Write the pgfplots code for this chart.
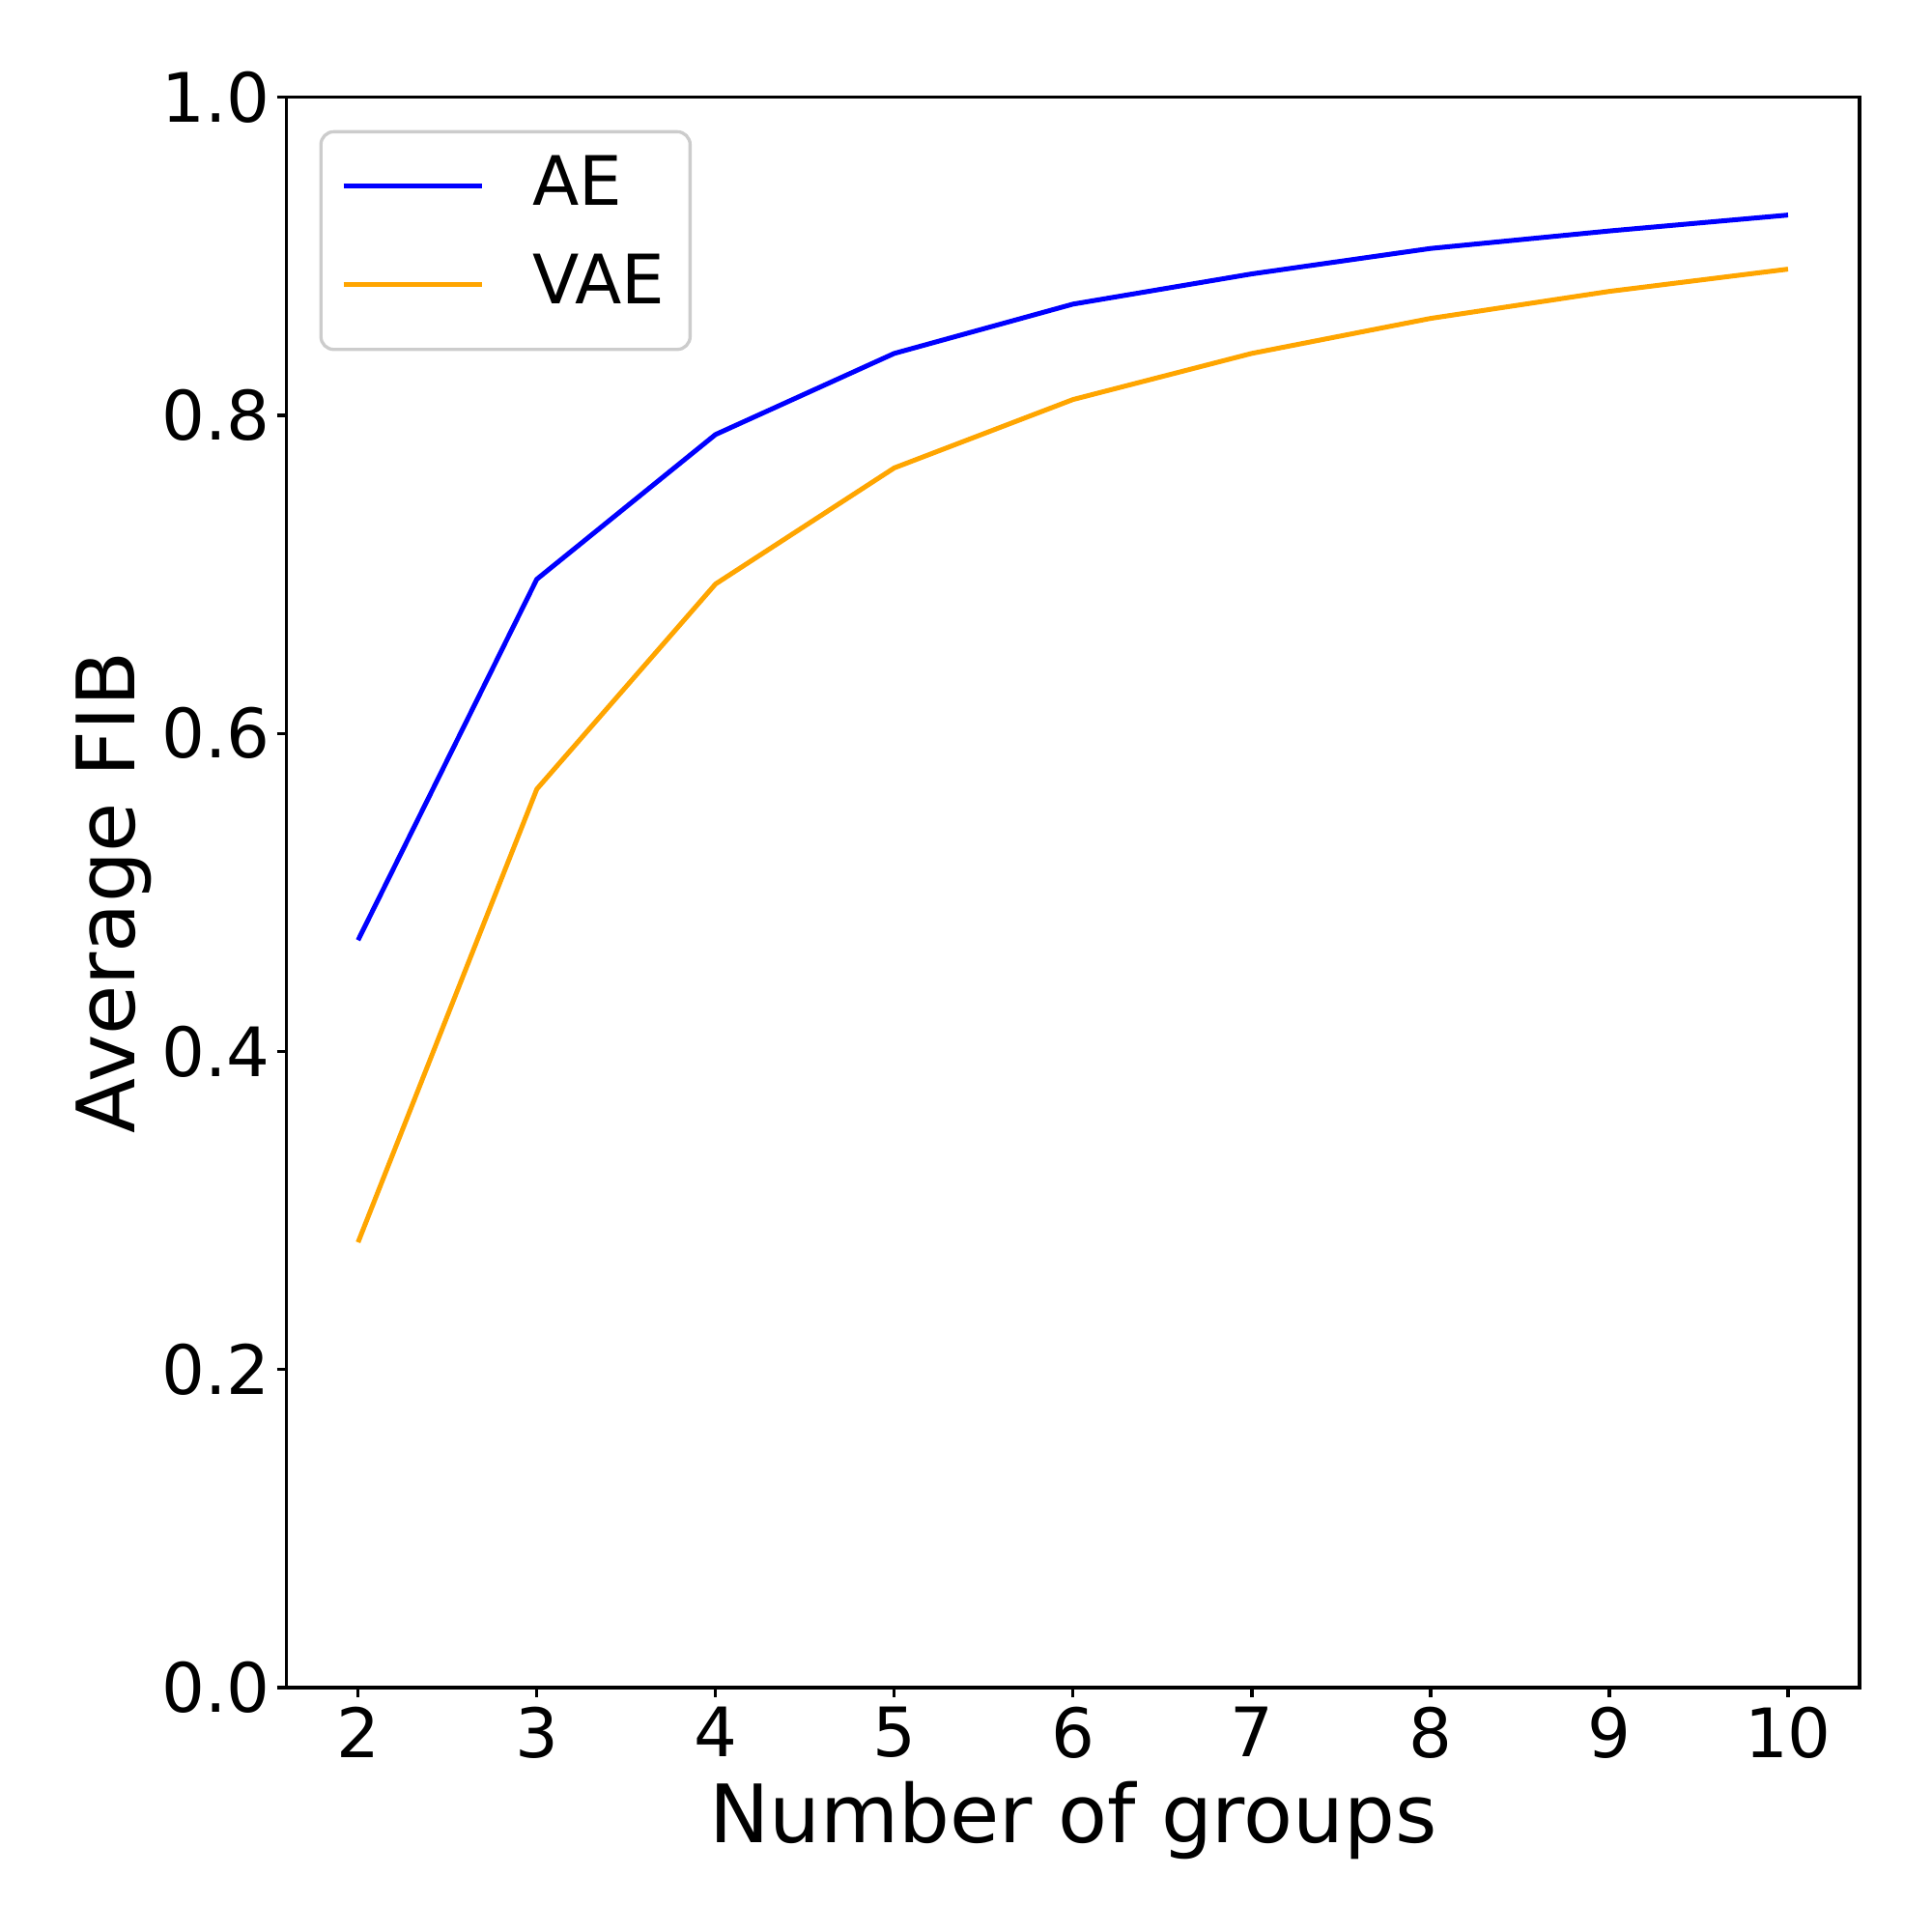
\documentclass[border=0pt]{standalone}
\usepackage{fontspec}
\setmainfont{DejaVu Sans}
\usepackage{pgfplots}
\pgfplotsset{compat=1.18}
\definecolor{mplorange}{RGB}{255,165,0}
\definecolor{mplblue}{RGB}{0,0,255}
\definecolor{legframe}{RGB}{204,204,204}
\begin{document}
\begin{tikzpicture}
\path[use as bounding box] (-106.8pt,-91.1pt) rectangle (613.2pt,628.9pt);
\begin{axis}[
  at={(0,0)}, anchor=south west,
  scale only axis,
  width=586.2pt, height=592.6pt,
  xmin=1.6, xmax=10.4, ymin=0, ymax=1,
  xtick={2,3,4,5,6,7,8,9,10},
  ytick={0,0.2,0.4,0.6,0.8,1.0},
  yticklabel style={/pgf/number format/fixed,/pgf/number format/precision=1,/pgf/number format/fixed zerofill, inner xsep=2.4pt},
  xticklabel style={inner ysep=3.6pt},
  /pgf/number format/assume math mode=true,
  tick label style={font=\fontsize{25.4}{30}\selectfont},
  tick align=outside,
  major tick length=3.6pt,
  tick style={black, line width=1.2pt},
  xtick pos=bottom, ytick pos=left,
  axis line style={line width=1.2pt},
  xlabel={Number of groups},
  ylabel={Average FIB},
  label style={font=\fontsize{30}{36}\selectfont, inner sep=0pt},
  xlabel style={at={(axis description cs:0.5,-0.0589)}, anchor=north},
  ylabel style={at={(axis description cs:-0.1341,0.5)}, anchor=north},
  legend cell align=left,
  legend image code/.code={\draw[#1] (0pt,2.1pt) -- (51.8pt,2.1pt);},
  legend style={at={(0,1)}, anchor=north west, xshift=12.2pt, yshift=-12.2pt,
    draw=legframe, line width=1.2pt, rounded corners=4.8pt,
    font=\fontsize{25.4}{30}\selectfont,
    inner xsep=7.5pt, inner ysep=6.8pt, row sep=6.1pt,
    /tikz/column sep=15.8pt,
    nodes={text depth=8.2pt}},
]
\addplot[mplblue, line width=1.8pt, line join=round] coordinates {
(2,0.470) (3,0.697) (4,0.788) (5,0.839) (6,0.870) (7,0.889) (8,0.905) (9,0.916) (10,0.926)};
\addlegendentry{AE}
\addplot[mplorange, line width=1.8pt, line join=round] coordinates {
(2,0.280) (3,0.565) (4,0.694) (5,0.767) (6,0.810) (7,0.839) (8,0.861) (9,0.878) (10,0.892)};
\addlegendentry{VAE}
\end{axis}
\end{tikzpicture}
\end{document}
